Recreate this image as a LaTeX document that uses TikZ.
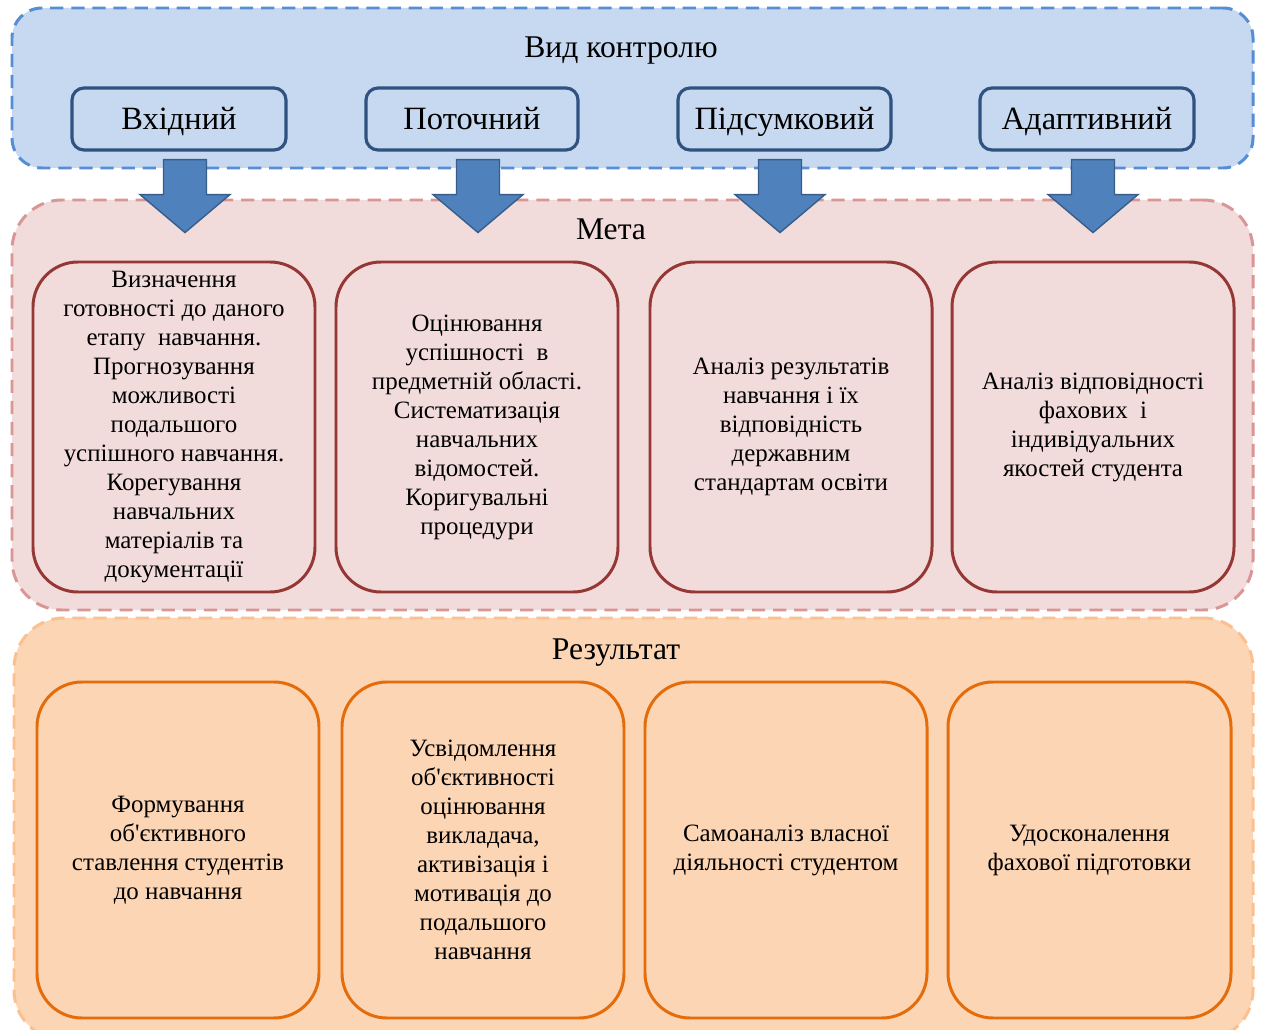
\documentclass[tikz,border=0pt]{standalone}
\usepackage{fontspec}
\setmainfont{Liberation Serif}
\usetikzlibrary{fit,calc}

\definecolor{ctrlfill}{HTML}{C6D9F1}
\definecolor{ctrldash}{HTML}{558ED5}
\definecolor{ctrledge}{HTML}{2F5280}
\definecolor{arrfill}{HTML}{4F81BD}
\definecolor{arredge}{HTML}{385D8A}
\definecolor{goalfill}{HTML}{F2DCDB}
\definecolor{goaldash}{HTML}{D99694}
\definecolor{goaledge}{HTML}{953735}
\definecolor{resfill}{HTML}{FCD5B5}
\definecolor{resdash}{HTML}{FAC090}
\definecolor{resedge}{HTML}{E46C0A}

\tikzset{
  panel/.style={draw, line width=1.7pt, dash pattern=on 7.5pt off 4.5pt, inner sep=0pt},
  kindbox/.style={draw=ctrledge, fill=ctrlfill, line width=1.8pt, rounded corners=0.24cm,
    inner sep=0pt},
  goalbox/.style={draw=goaledge, fill=goalfill, line width=1.7pt, rounded corners=0.9cm,
    inner sep=0pt},
  resbox/.style={draw=resedge, fill=resfill, line width=1.7pt, rounded corners=0.9cm,
    inner sep=0pt},
  boxtext/.style={align=center, font=\fontsize{14.2}{16.5}\selectfont},
  kindtext/.style={font=\fontsize{18.5}{20}\selectfont, anchor=base, inner sep=0pt},
  headline/.style={font=\fontsize{18}{20}\selectfont, anchor=base, inner sep=0pt},
  blockarrow/.pic={
    \draw[fill=arrfill, draw=arredge, line width=0.8pt, line join=miter]
      (-21.5,0) -- (21.5,0) -- (21.5,35) -- (45,35) -- (0,73) -- (-45,35) -- (-21.5,35) -- cycle;
  }
}

\begin{document}
\begin{tikzpicture}[x=0.02cm, y=-0.02cm]
\useasboundingbox (0,0) rectangle (1262,1030);
\fill[white] (0,0) rectangle (1262,1030);

% control types
\node[panel, draw=ctrldash, fill=ctrlfill, rounded corners=0.6cm, fit={(12,8) (1253,168)}] (ctrl) {};
\node[headline] (ctrltitle) at (621,58) {Вид контролю};
\node[kindbox, fit={(72,88) (286,150)}] (k1) {};
\node[kindtext] (k1t) at ($(k1.center)+(0,11)$) {Вхідний};
\node[kindbox, fit={(366,88) (578,150)}] (k2) {};
\node[kindtext] (k2t) at ($(k2.center)+(0,11)$) {Поточний};
\node[kindbox, fit={(678,88) (891,150)}] (k3) {};
\node[kindtext] (k3t) at ($(k3.center)+(0,11)$) {Підсумковий};
\node[kindbox, fit={(980,88) (1194,150)}] (k4) {};
\node[kindtext] (k4t) at ($(k4.center)+(0,11)$) {Адаптивний};

% goals
\node[panel, draw=goaldash, fill=goalfill, rounded corners=1cm, fit={(12,200) (1253,610)}] (goal) {};
\node[headline] (goaltitle) at (611,240) {Мета};
\node[goalbox, fit={(33,262) (315,592)}] (g1) {};
\node[boxtext] (g1t) at (g1.center) {Визначення\\готовності до даного\\етапу\ \ навчання.\\Прогнозування\\можливості\\подальшого\\успішного навчання.\\Корегування\\навчальних\\матеріалів та\\документації};
\node[goalbox, fit={(336,262) (618,592)}] (g2) {};
\node[boxtext] (g2t) at (g2.center) {Оцінювання\\успішності\ \ в\\предметній області.\\Систематизація\\навчальних\\відомостей.\\Коригувальні\\процедури};
\node[goalbox, fit={(650,262) (932,592)}] (g3) {};
\node[boxtext] (g3t) at (g3.center) {Аналіз результатів\\навчання і їх\\відповідність\\державним\\стандартам освіти};
\node[goalbox, fit={(952,262) (1234,592)}] (g4) {};
\node[boxtext] (g4t) at (g4.center) {Аналіз відповідності\\фахових\ \ і\\індивідуальних\\якостей студента};

% results
\node[panel, draw=resdash, fill=resfill, rounded corners=1cm, fit={(14,618) (1253,1040)}] (res) {};
\node[headline] (restitle) at (616,660) {Результат};
\node[resbox, fit={(37,682) (319,1018)}] (r1) {};
\node[boxtext] (r1t) at (r1.center) {Формування\\об\textquotesingle єктивного\\ставлення студентів\\до навчання};
\node[resbox, fit={(342,682) (624,1018)}] (r2) {};
\node[boxtext] (r2t) at (r2.center) {Усвідомлення\\об\textquotesingle єктивності\\оцінювання\\викладача,\\активізація і\\мотивація до\\подальшого\\навчання};
\node[resbox, fit={(645,682) (927,1018)}] (r3) {};
\node[boxtext] (r3t) at (r3.center) {Самоаналіз власної\\діяльності студентом};
\node[resbox, fit={(948,682) (1231,1018)}] (r4) {};
\node[boxtext] (r4t) at (r4.center) {Удосконалення\\фахової підготовки};

% block arrows from each control type towards the goals
\pic at ($(k1.south)+(6,8)$) {blockarrow};
\pic at ($(k2.south)+(6,8)$) {blockarrow};
\pic at ($(k3.south)+(-4.5,8)$) {blockarrow};
\pic at ($(k4.south)+(6,8)$) {blockarrow};
\end{tikzpicture}
\end{document}
